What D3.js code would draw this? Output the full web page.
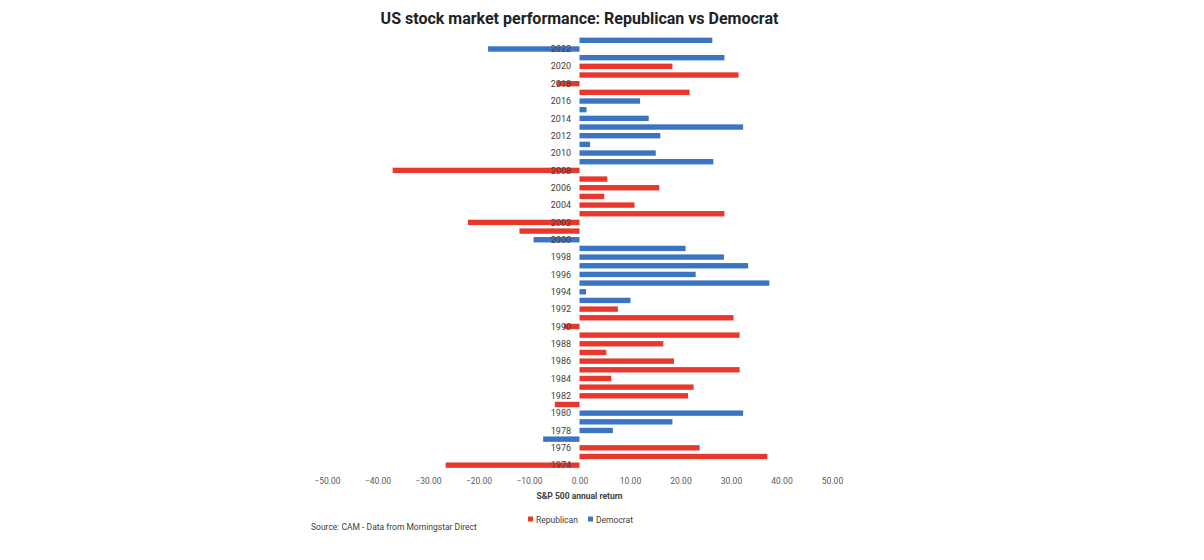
<!DOCTYPE html>
<html>
<head>
<meta charset="utf-8">
<script src="https://d3js.org/d3.v7.min.js"></script>
<style>
  body { margin: 0; background: #fff; }
  text { font-family: Roboto, "Liberation Sans", sans-serif; }
</style>
</head>
<body>
<div id="chart"></div>
<script>
// years bottom to top, S&P 500 annual return and party in office
years = d3.range(1974, 2024)
returns = [-26.5, 37.2, 23.8, -7.2, 6.6, 18.4, 32.4, -4.9, 21.5, 22.6,
           6.3, 31.7, 18.7, 5.3, 16.6, 31.7, -3.1, 30.5, 7.6, 10.1,
           1.3, 37.6, 23.0, 33.4, 28.6, 21.0, -9.1, -11.9, -22.1, 28.7,
           10.9, 4.9, 15.8, 5.5, -37.0, 26.5, 15.1, 2.1, 16.0, 32.4,
           13.7, 1.4, 12.0, 21.8, -4.4, 31.5, 18.4, 28.7, -18.1, 26.3]
parties = ['R','R','R','D','D','D','D','R','R','R',
           'R','R','R','R','R','R','R','R','R','D',
           'D','D','D','D','D','D','D','R','R','R',
           'R','R','R','R','R','D','D','D','D','D',
           'D','D','D','R','R','R','R','D','D','D']
xTicks = [-50, -40, -30, -20, -10, 0, 10, 20, 30, 40, 50]
legendItems = [{key: 'R', name: 'Republican'}, {key: 'D', name: 'Democrat'}]

data = years.map((y, i) => ({year: y, value: returns[i], party: parties[i]}))

width = 1204
height = 560
partyColors = {R: '#e8382d', D: '#3a74c2'}

svg = d3.select('#chart')
  .append('svg')
  .attr('width', width)
  .attr('height', height)

xScale = d3.scaleLinear()
  .domain([-50, 50])
  .range([327, 832])

yScale = d3.scaleBand()
  .domain(years.slice().reverse())
  .range([36, 469.5])
  .paddingInner(0.38)
  .paddingOuter(0.19)

// bars
svg.append('g')
  .selectAll('rect')
  .data(data)
  .join('rect')
  .attr('x', d => xScale(Math.min(0, d.value)))
  .attr('width', d => Math.abs(xScale(d.value) - xScale(0)))
  .attr('y', d => yScale(d.year))
  .attr('height', yScale.bandwidth())
  .attr('fill', d => partyColors[d.party])

// year labels, every other year
svg.append('g')
  .selectAll('text')
  .data(years.filter(y => y % 2 === 0))
  .join('text')
  .attr('x', 571)
  .attr('y', d => yScale(d) + yScale.bandwidth() / 2)
  .attr('dy', '0.35em')
  .attr('text-anchor', 'end')
  .attr('font-size', '9px')
  .attr('fill', '#404040')
  .text(d => d)

// x axis
xAxis = d3.axisBottom(xScale)
  .tickValues(xTicks)
  .tickFormat(d3.format('.2f'))
  .tickSize(0)
  .tickPadding(0)

gx = svg.append('g')
  .attr('transform', 'translate(0 478)')
  .call(xAxis)
gx.select('.domain').remove()
gx.selectAll('text')
  .attr('font-size', '8.5px')
  .attr('fill', '#595959')
  .attr('font-family', 'Roboto, sans-serif')

svg.append('text')
  .attr('x', xScale(0))
  .attr('y', 499)
  .attr('text-anchor', 'middle')
  .attr('font-size', '8.5px')
  .attr('font-weight', 'bold')
  .attr('fill', '#404040')
  .text('S&P 500 annual return')

// title
svg.append('text')
  .attr('x', xScale(0))
  .attr('y', 24)
  .attr('text-anchor', 'middle')
  .attr('font-size', '16px')
  .attr('font-weight', 'bold')
  .attr('fill', '#222')
  .text('US stock market performance: Republican vs Democrat')

// legend
legend = svg.append('g')
  .selectAll('g')
  .data(legendItems)
  .join('g')
  .attr('transform', (d, i) => `translate(${528 + i * 60} 520)`)

legend.append('rect')
  .attr('x', 0)
  .attr('y', -3.5)
  .attr('width', 5)
  .attr('height', 5)
  .attr('fill', d => partyColors[d.key])

legend.append('text')
  .attr('x', 8)
  .attr('y', 0)
  .attr('dy', '0.35em')
  .attr('font-size', '8.5px')
  .attr('fill', '#404040')
  .text(d => d.name)

// source
svg.append('text')
  .attr('x', 311)
  .attr('y', 530)
  .attr('font-size', '8.5px')
  .attr('fill', '#404040')
  .text('Source: CAM - Data from Morningstar Direct')
</script>
</body>
</html>
